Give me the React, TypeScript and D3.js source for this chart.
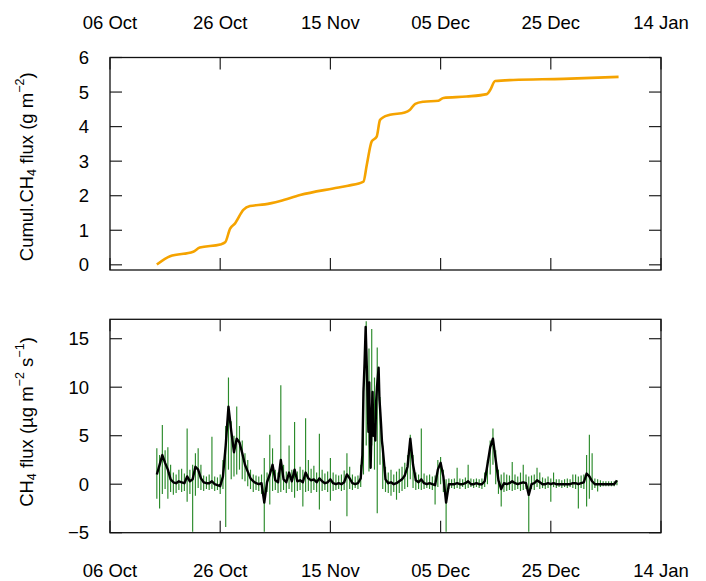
import React, { useEffect, useRef } from 'react';
import * as d3 from 'd3';

// x ticks shared by both panels
const tickDates = ['2013-10-06', '2013-10-26', '2013-11-15', '2013-12-05', '2013-12-25', '2014-01-14'];

// cumulative CH4 flux (g m-2), days since 06 Oct
const cumDays = [8.5, 10.9, 15.1, 16.3, 20, 20.9, 21.8, 22.7, 24.2, 25.4, 28.1, 30.9, 34.5, 40.5, 43.2, 46, 46.6, 47.5, 48.4, 49, 49.6, 50.8, 53.5, 54.4, 55.4, 56.9, 59.6, 60.5, 64.7, 68.4, 69, 69.9, 73.2, 82.3, 92.3];
const cumValues = [0.01, 0.25, 0.38, 0.5, 0.59, 0.65, 1.05, 1.2, 1.59, 1.7, 1.75, 1.85, 2.02, 2.21, 2.29, 2.41, 2.89, 3.57, 3.71, 4.19, 4.27, 4.34, 4.41, 4.48, 4.66, 4.72, 4.75, 4.83, 4.87, 4.94, 5.06, 5.32, 5.35, 5.38, 5.44];

// CH4 flux (ug m-2 s-1), half-day bins starting day 8.5
const fluxStart = 8.5;
const fluxStep = 0.5;
const greenLo = [
  -1.5, -2.5, -1.0, -0.5, -1.5, -0.8, -1.1, -0.9, -0.6, -0.8,
  -0.7, -1.8, -1.0, -4.9, -1.2, -0.4, -0.6, -0.7, -0.5, -0.6,
  -0.5, -0.7, -0.6, -1.0, -0.5, -4.4, 1.5, 0.5, 0.8, 1.0,
  1.5, 0.5, 0.3, -0.2, -0.5, -0.8, -0.6, -0.7, -1.0, -4.9,
  -0.8, -2.1, -0.7, -0.6, -0.9, -0.8, -0.6, -0.9, -0.5, -0.8,
  -1.4, -0.7, -0.6, -2.3, -0.8, -0.7, -0.9, -0.6, -0.8, -2.6,
  -0.7, -0.6, -0.8, -1.7, -0.7, -0.6, -0.5, -0.7, -0.6, -3.3,
  -0.5, -0.6, -0.4, -0.5, -0.3, 1.0, 4.0, 1.3, 4.0, 1.5,
  -3.0, 2.0, -0.5, -0.8, -0.9, -1.2, -0.8, -1.6, -0.9, -0.7,
  -0.5, -0.3, 0.5, -0.4, -0.6, -0.5, -0.6, -0.5, -0.4, -0.5,
  -0.6, -2.1, -0.3, 0.0, -0.8, -4.9, -0.5, -0.4, -0.5, -0.4,
  -0.5, -0.3, -0.5, -0.4, -0.3, -0.4, -0.3, -0.4, -0.5, -0.3,
  0.0, 1.0, 2.0, 0.0, -1.0, -2.3, -0.8, -0.7, -0.6, -0.7,
  -0.6, -0.5, -0.7, -0.6, -0.5, -4.9, -0.5, -0.6, -0.3, -0.5,
  -0.4, -0.5, -0.4, -1.8, -0.3, -0.4, -0.3, -0.4, -0.3, -0.4,
  -0.3, -0.4, -0.5, -2.5, -0.4, -0.5, -2.3, -1.5, -0.6, -0.4,
  -0.75, -0.3, -0.2, -0.2, -0.2, -0.2, -0.2, -0.1
];
const greenHi = [
  3.7, 3.0, 6.1, 3.5, 3.8, 2.0, 1.2, 1.0, 1.5, 1.6,
  1.1, 5.75, 1.5, 2.0, 3.2, 3.7, 2.0, 0.9, 0.8, 1.0,
  4.9, 0.8, 0.7, 1.0, 2.5, 6.0, 11.0, 6.5, 5.0, 8.0,
  6.0, 4.5, 3.2, 2.5, 1.5, 1.0, 0.9, 0.8, 1.0, 2.7,
  1.2, 5.1, 3.7, 1.5, 1.2, 10.2, 2.0, 1.3, 4.0, 1.5,
  6.4, 1.3, 1.8, 1.5, 6.8, 2.5, 1.6, 1.9, 1.2, 5.2,
  1.5, 1.1, 1.3, 2.7, 1.2, 1.0, 0.9, 1.0, 1.4, 3.2,
  1.8, 1.0, 0.8, 0.9, 2.0, 10.0, 16.8, 14.0, 16.0, 11.0,
  14.1, 9.0, 4.0, 1.8, 1.2, 1.5, 1.0, 1.3, 1.6, 1.8,
  2.2, 3.0, 5.1, 3.0, 1.2, 1.0, 5.75, 1.1, 0.9, 1.0,
  0.8, 0.9, 2.5, 2.8, 1.5, 0.5, 0.6, 0.5, 0.6, 1.7,
  0.6, 0.5, 0.7, 2.0, 0.6, 0.5, 0.6, 0.5, 0.6, 1.2,
  2.5, 4.5, 5.75, 3.5, 1.5, 1.0, 1.2, 1.0, 0.9, 2.3,
  1.0, 0.8, 1.2, 2.0, 1.0, 0.8, 0.9, 1.0, 1.7, 1.2,
  0.7, 0.6, 0.8, 0.6, 1.2, 0.5, 0.5, 0.4, 0.5, 0.6,
  0.5, 1.0, 1.0, 0.8, 0.9, 1.0, 3.0, 5.1, 3.2, 0.6,
  0.5, 0.4, 0.3, 0.3, 0.3, 0.3, 0.3, 0.4
];
const blackFlux = [
  1.0, 2.0, 3.0, 2.2, 1.5, 0.5, 0.2, 0.1, 0.3, 0.2,
  0.1, 0.8, 0.3, 0.5, 1.8, 1.5, 0.6, 0.2, 0.1, 0.1,
  0.3, 0.0, -0.1, -0.2, 0.8, 4.0, 8.0, 5.5, 3.3, 4.7,
  4.3, 3.2, 2.0, 1.3, 0.6, 0.3, 0.1, 0.0, 0.1, -1.9,
  0.2, 1.0, 2.0, 0.4, 0.2, 2.5, 0.5, 0.2, 1.2, 0.3,
  1.5, 0.3, 0.4, 0.2, 1.2, 0.6, 0.4, 0.5, 0.2, 0.6,
  0.3, 0.1, 0.2, 0.5, 0.1, 0.0, 0.1, 0.0, 0.2, 1.0,
  0.6, 0.1, 0.0, 0.1, 0.6, 5.0, 16.2, 3.0, 12.6, 6.0,
  12.0, 6.5, 2.0, 0.5, 0.1, 0.2, 0.0, 0.1, 0.3, 0.5,
  0.9, 1.8, 4.7, 2.0, 0.4, 0.2, 0.5, 0.1, 0.0, 0.1,
  0.0, -0.1, 1.5, 2.2, 0.8, -1.9, 0.0, 0.0, 0.0, 0.1,
  0.0, 0.0, 0.1, 0.3, 0.0, 0.0, 0.1, 0.0, 0.0, 0.3,
  2.0, 3.8, 4.7, 2.5, 0.4, -0.5, 0.1, 0.0, 0.1, 0.3,
  0.1, 0.0, 0.1, 0.2, 0.1, -1.1, 0.0, 0.1, 0.4, 0.2,
  0.0, 0.0, 0.1, 0.0, 0.1, 0.0, 0.0, 0.0, 0.0, 0.0,
  0.0, 0.1, 0.1, 0.0, 0.1, 0.2, 1.1, 0.8, 0.3, 0.0,
  0.0, 0.0, 0.0, 0.0, 0.0, 0.0, 0.0, 0.4
];
// finer reading of the smoothed flux around the main November peak
const blackPeakDays = [45.5, 45.8, 46.0, 46.2, 46.4, 46.6, 46.75, 46.9, 47.05, 47.2, 47.3, 47.5, 47.65, 47.8, 48.0, 48.15, 48.3, 48.45, 48.6, 48.75, 48.9, 49.05, 49.2, 49.35, 49.5];
const blackPeakValues = [0.6, 3.0, 9.5, 12.5, 16.2, 12.2, 9.0, 5.4, 10.5, 4.0, 1.7, 7.1, 9.5, 5.0, 6.1, 4.5, 8.5, 10.0, 11.0, 12.0, 8.8, 7.5, 6.1, 4.5, 3.7];

const cumTicks = [0, 1, 2, 3, 4, 5, 6];
const fluxTicks = [-5, 0, 5, 10, 15];

const width = 706;
const height = 581;
const left = 110;
const right = 661;
const topPanel = { y0: 57.5, y1: 270 };
const botPanel = { y0: 319.3, y1: 532.7 };
const font = '"Liberation Sans", Arial, sans-serif';
const fontSize = 18.5;
const tickLen = 12;

const parse = d3.utcParse('%Y-%m-%d');
const fmt = d3.utcFormat('%d %b');
const origin = parse(tickDates[0]);
const dayToDate = (d) => new Date(origin.getTime() + d * 864e5);

const App = () => {
  const svgRef = useRef();

  useEffect(() => {
    const svg = d3.select(svgRef.current);
    svg.selectAll('*').remove();
    svg.attr('font-family', font).attr('font-size', fontSize);

    const ticks = tickDates.map(parse);
    const x = d3.scaleUtc()
      .domain([ticks[0], ticks[ticks.length - 1]])
      .range([left, right]);

    const yCum = d3.scaleLinear().domain([-0.15, 6]).range([topPanel.y1, topPanel.y0]);
    const yFlux = d3.scaleLinear().domain([-5, 17]).range([botPanel.y1, botPanel.y0]);

    const drawFrame = (panel, y, yTicks, labelTop) => {
      const g = svg.append('g');
      // inward ticks on all four sides
      ticks.forEach(t => {
        g.append('line').attr('x1', x(t)).attr('x2', x(t))
          .attr('y1', panel.y0).attr('y2', panel.y0 + tickLen)
          .attr('stroke', '#222').attr('stroke-width', 1.2);
        g.append('line').attr('x1', x(t)).attr('x2', x(t))
          .attr('y1', panel.y1).attr('y2', panel.y1 - tickLen)
          .attr('stroke', '#222').attr('stroke-width', 1.2);
        g.append('text')
          .attr('x', x(t))
          .attr('y', labelTop ? panel.y0 - 29 : panel.y1 + 44)
          .attr('text-anchor', 'middle')
          .text(fmt(t));
      });
      yTicks.forEach(v => {
        g.append('line').attr('x1', left).attr('x2', left + tickLen)
          .attr('y1', y(v)).attr('y2', y(v))
          .attr('stroke', '#222').attr('stroke-width', 1.2);
        g.append('line').attr('x1', right).attr('x2', right - tickLen)
          .attr('y1', y(v)).attr('y2', y(v))
          .attr('stroke', '#222').attr('stroke-width', 1.2);
        g.append('text')
          .attr('x', left - 21)
          .attr('y', y(v))
          .attr('dy', '0.36em')
          .attr('text-anchor', 'end')
          .text(d3.format('d')(v));
      });
      g.append('rect')
        .attr('x', left).attr('y', panel.y0)
        .attr('width', right - left).attr('height', panel.y1 - panel.y0)
        .attr('fill', 'none').attr('stroke', '#111').attr('stroke-width', 1.3);
    };

    // top panel: cumulative flux
    const cumLine = d3.line()
      .x((d, i) => x(dayToDate(cumDays[i])))
      .y(d => yCum(d))
      .curve(d3.curveMonotoneX);
    svg.append('path')
      .attr('d', cumLine(cumValues))
      .attr('fill', 'none')
      .attr('stroke', '#f5a300')
      .attr('stroke-width', 2.6)
      .attr('stroke-linejoin', 'round');
    drawFrame(topPanel, yCum, cumTicks, true);

    // bottom panel: raw flux (green) as per-bin ranges
    const bins = greenLo.map((lo, i) => ({ day: fluxStart + i * fluxStep, lo, hi: greenHi[i] }));
    svg.append('g').selectAll('line')
      .data(bins)
      .enter().append('line')
      .attr('x1', d => x(dayToDate(d.day)))
      .attr('x2', d => x(dayToDate(d.day)))
      .attr('y1', d => yFlux(d.lo))
      .attr('y2', d => yFlux(d.hi))
      .attr('stroke', '#2a8a2a')
      .attr('stroke-width', 1.15);

    // smoothed flux (black)
    const peakStart = blackPeakDays[0];
    const peakEnd = blackPeakDays[blackPeakDays.length - 1];
    const blackPts = blackFlux
      .map((v, i) => [fluxStart + i * fluxStep, v])
      .filter(d => d[0] < peakStart || d[0] > peakEnd)
      .concat(blackPeakDays.map((d, i) => [d, blackPeakValues[i]]))
      .sort((a, b) => a[0] - b[0]);
    const fluxLine = d3.line()
      .x(d => x(dayToDate(d[0])))
      .y(d => yFlux(d[1]));
    svg.append('path')
      .attr('d', fluxLine(blackPts))
      .attr('fill', 'none')
      .attr('stroke', '#000')
      .attr('stroke-width', 2.4)
      .attr('stroke-linejoin', 'round');
    drawFrame(botPanel, yFlux, fluxTicks, false);

    // y axis titles
    const addTitle = (cy, parts) => {
      const t = svg.append('text')
        .attr('transform', `translate(33, ${cy}) rotate(-90)`)
        .attr('text-anchor', 'middle');
      parts.forEach(([txt, kind]) => {
        const s = t.append('tspan').text(txt);
        if (kind === 'sub') s.attr('font-size', fontSize * 0.68).attr('baseline-shift', '-25%');
        if (kind === 'sup') s.attr('font-size', fontSize * 0.68).attr('baseline-shift', '70%');
      });
    };
    addTitle((topPanel.y0 + topPanel.y1) / 2 + 3, [
      ['Cumul.CH'], ['4', 'sub'], [' flux (g m'], ['\u22122', 'sup'], [')']
    ]);
    addTitle((botPanel.y0 + botPanel.y1) / 2 - 4, [
      ['CH'], ['4', 'sub'], [' flux (\u00b5g m'], ['\u22122', 'sup'], [' s'], ['\u22121', 'sup'], [')']
    ]);
  }, []);

  return (
    <svg ref={svgRef} width={width} height={height}
      style={{ position: 'absolute', left: 0, top: 0, background: '#fff' }} />
  );
};

export default App;
